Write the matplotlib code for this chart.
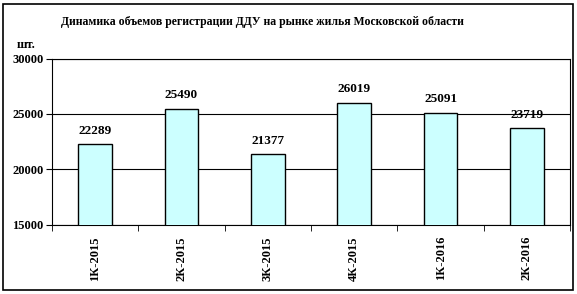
import matplotlib.pyplot as plt
import numpy as np
from matplotlib.patches import Rectangle

plt.rcParams['font.family'] = 'Liberation Serif'
plt.rcParams['font.weight'] = 'bold'

# Данные
quarters = ['1К-2015', '2К-2015', '3К-2015', '4К-2015', '1К-2016', '2К-2016']
volumes = [22289, 25490, 21377, 26019, 25091, 23719]

fig = plt.figure(figsize=(5.77, 2.94), dpi=100)
ax = fig.add_axes([0.0901, 0.235, 0.898, 0.566])

x = np.arange(len(quarters))
ax.bar(x, volumes, width=0.39, color='#CCFFFF', edgecolor='black', linewidth=1, zorder=3)
for xi, v in zip(x, volumes):
    ax.annotate(str(v), (xi, v), xytext=(0, 9.7), textcoords='offset points',
                ha='center', va='center', fontsize=9.5, fontweight='bold')

ax.set_xlim(-0.5, len(quarters) - 0.5)
ax.set_ylim(15000, 30000)
ax.set_yticks([15000, 20000, 25000, 30000])
ax.yaxis.grid(True, color='black', linewidth=0.8, zorder=0)
ax.set_xticks(x)
ax.set_xticklabels(quarters, rotation=90, fontsize=9, fontweight='bold')
ax.tick_params(axis='x', length=0, pad=8)
ax.set_xticks(np.arange(-0.5, len(quarters)), minor=True)
ax.tick_params(axis='x', which='minor', length=4, direction='out')
ax.tick_params(axis='y', length=4, direction='out', labelsize=9, pad=2)
for lab in ax.get_yticklabels():
    lab.set_fontweight('bold')
for s in ax.spines.values():
    s.set_linewidth(0.8)

fig.text(0.454, 0.925, 'Динамика объемов регистрации ДДУ на рынке жилья Московской области',
         ha='center', va='center', fontsize=8.5, fontweight='bold')
fig.text(0.045, 0.847, 'шт.', ha='center', va='center', fontsize=9, fontweight='bold')

fig.patches.append(Rectangle((0.006, 0.014), 0.987, 0.972, transform=fig.transFigure,
                             fill=False, edgecolor='black', linewidth=1.2))

fig.savefig('out.png', dpi=100)
